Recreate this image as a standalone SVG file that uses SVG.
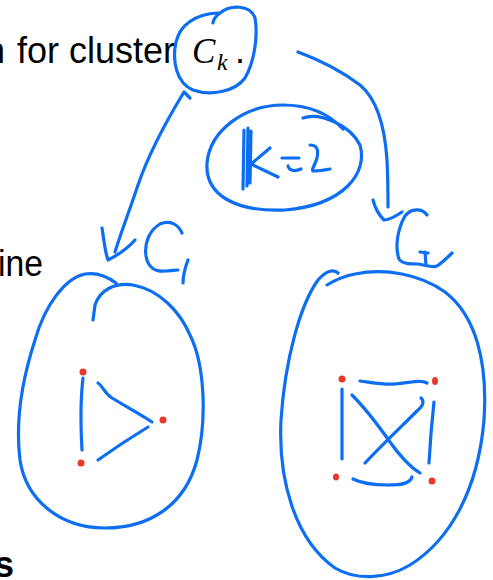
<svg xmlns="http://www.w3.org/2000/svg" width="493" height="580" viewBox="0 0 493 580">
<style>
.ink{fill:none;stroke:#0d6ef2;stroke-width:3.2;stroke-linecap:round;stroke-linejoin:round}
.dot{fill:#e8392b}
.txt{font-family:"Liberation Sans",Arial,sans-serif;font-size:36px;fill:#000}
.math{font-family:"Liberation Serif","Times New Roman",serif;font-style:italic;fill:#000}
</style>
<rect width="493" height="580" fill="#fff"/>
<g id="slide-text">
<text class="txt" x="-15" y="63">n</text>
<text class="txt" x="17" y="63" textLength="158" lengthAdjust="spacingAndGlyphs">for cluster</text>
<text class="math" x="192" y="63" font-size="35">C</text>
<text class="math" x="217" y="70" font-size="24">k</text>
<text class="txt" x="235" y="63">.</text>
<text class="txt" x="-2" y="276" textLength="45" lengthAdjust="spacingAndGlyphs">ine</text>
<text class="txt" x="-6" y="577" font-weight="bold" font-size="37">s</text>
</g>
<g id="ck-loop">
<path class="ink" d="M213,23 Q214,17 220,13 C230,5 250,4 255,18 C258,35 255,60 245,78 C235,92 210,96 193,90 C176,83 172,60 176,42 C180,25 195,14 218,13"/>
</g>
<g id="k-equals-2">
<path class="ink" d="M303,118 C320,112 350,125 360,145 C368,172 345,205 285,210 C235,212 205,195 207,163 C210,130 245,105 283,105 C310,105 330,115 343,129"/>
<path class="ink" d="M244,130 L243,189 M248,128 L247,186 M251,131 L250,183"/>
<path class="ink" d="M270,148 L251,164 L278,177"/>
<path class="ink" d="M282,158 L299,158"/>
<path class="ink" d="M288,166 C290,172 296,171 301,169"/>
<path class="ink" d="M310,145 C316,145 319,148 317,158 C315,165 311,170 313,171 C318,171 325,170 330,169"/>
</g>
<g id="connectors">
<path class="ink" d="M190,98 L184,92 C170,115 150,150 138,185 C128,215 120,235 115,252"/>
<path class="ink" d="M102,228 C104,240 105,252 108,260 C118,255 128,248 135,240"/>
<path class="ink" d="M298,52 C320,60 340,70 360,85 C378,100 385,130 387,160 C388,180 388,195 388,207"/>
<path class="ink" d="M373,200 C375,208 378,214 384,220 C390,220 396,216 402,212"/>
</g>
<g id="label-c1">
<path class="ink" d="M182,233 C178,224 170,220 160,224 C150,230 144,242 146,256 C148,268 156,272 165,271 C170,271 175,270 178,270"/>
<path class="ink" d="M188,260 C185,268 183,276 183,283"/>
</g>
<g id="label-c2">
<path class="ink" d="M427,215 C422,208 411,208 405,216 C397,230 395,248 399,259 C402,264 410,264 418,264 C426,265 432,268 437,266 C443,262 448,257 452,253"/>
<path class="ink" d="M420,252 L428,253 M425,252 L426,265"/>
</g>
<g id="cluster-c1">
<path class="ink" d="M116,283 C108,277 97,272 85,274 C65,278 45,305 35,340 C22,380 15,420 20,460 C26,500 60,528 105,528 C150,528 185,505 197,460 C207,420 205,365 190,335 C180,312 160,290 133,285 C115,282 100,290 95,305 L93,320"/>
<circle class="dot" cx="83" cy="372" r="3.5"/>
<circle class="dot" cx="163" cy="420" r="3.5"/>
<circle class="dot" cx="81" cy="463" r="3.5"/>
<path class="ink" d="M83,378 C81,395 80,415 82,450"/>
<path class="ink" d="M98,383 C103,386 104,393 112,398 C125,406 140,414 152,422"/>
<path class="ink" d="M148,427 C130,438 112,450 98,460"/>
</g>
<g id="cluster-c2">
<path class="ink" d="M338,273 C333,268 325,272 318,280 C300,305 285,360 281,420 C278,480 295,540 335,568 C355,580 385,580 410,565 C450,540 478,490 484,420 C488,360 475,315 445,292 C420,274 385,268 355,274 C345,276 335,280 327,285"/>
<ellipse class="dot" cx="342" cy="379" rx="3.5" ry="3.5"/>
<ellipse class="dot" cx="435" cy="381" rx="3" ry="4"/>
<ellipse class="dot" cx="336" cy="477" rx="3" ry="3.5"/>
<ellipse class="dot" cx="432" cy="481" rx="3.5" ry="3.5"/>
<path class="ink" d="M360,381 C375,383 385,385 395,384 C410,383 420,379 427,383"/>
<path class="ink" d="M342,389 L342,459"/>
<path class="ink" d="M434,402 C432,420 430,445 429,463"/>
<path class="ink" d="M353,479 C363,484 375,485 388,485 C400,485 410,484 412,477"/>
<path class="ink" d="M352,395 C365,408 378,425 390,442 C400,456 410,467 420,473"/>
<path class="ink" d="M421,398 C424,401 424,405 418,410 C400,428 385,442 365,463"/>
</g>
</svg>
